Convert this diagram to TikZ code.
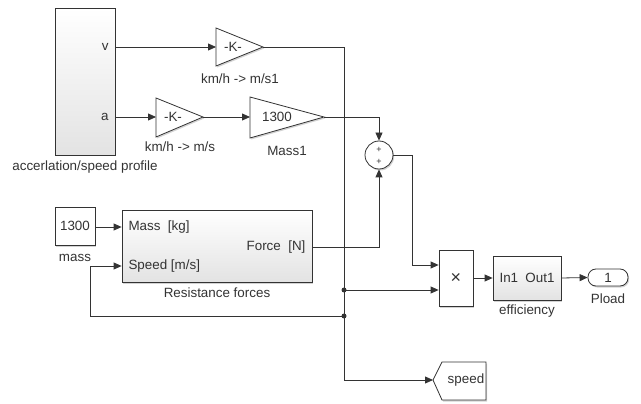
\documentclass[tikz,border=0pt]{standalone}
\usepackage{fontspec}
\setmainfont{Liberation Sans}
\usetikzlibrary{arrows.meta,shapes.geometric,shadows,calc}
\definecolor{ln}{HTML}{333333}
\tikzset{
  every node/.style={font=\fontsize{13.4}{15}\selectfont, text=ln},
  shd/.style={drop shadow={shadow xshift=1.2pt,shadow yshift=-1.5pt,opacity=.35,fill=gray}},
  blk/.style={draw=ln, line width=0.8pt, fill=white, inner sep=0pt, shd},
  subsys/.style={blk, top color=white, bottom color=gray!22},
  tri/.style={draw=ln, line width=0.8pt, fill=white, shd},
  sig/.style={draw=ln, line width=0.8pt, -{Triangle[length=8pt,width=7pt]}},
  wire/.style={draw=ln, line width=0.8pt},
  dot/.style={circle, fill=ln, inner sep=0pt, minimum size=5pt},
}
\begin{document}
\begin{tikzpicture}[x=1pt,y=-1pt]
\useasboundingbox (0,0) rectangle (641,404);
% profile block
\node[subsys, minimum width=60pt, minimum height=147pt] (prof) at (85,81.5) {};
\node[anchor=east] (lv) at (112,47) {v};
\node[anchor=east] (la) at (112,117) {a};
\node (lprof) at (85,167) {accerlation/speed profile};
\coordinate (pv) at (115,47);
\coordinate (pa) at (115,117);
% gains
\filldraw[tri] (216,28) -- (263,47) -- (216,66) -- cycle;
\coordinate (g1in) at (216,47);
\coordinate (g1out) at (263,47);
\node (k1) at (233,47) {-K-};
\node (lg1) at (240,79) {km/h -> m/s1};
\filldraw[tri] (156,98) -- (203,117) -- (156,137) -- cycle;
\coordinate (g2in) at (156,117);
\coordinate (g2out) at (203,117);
\node (k2) at (173,117) {-K-};
\node (lg2) at (180,147) {km/h -> m/s};
\filldraw[tri] (250,97) -- (324,117) -- (250,138) -- cycle;
\coordinate (m1in) at (250,117);
\coordinate (m1out) at (324,117);
\node (km1) at (277,117) {1300};
\node (lm1) at (287,151) {Mass1};
% sum
\node[blk, circle, minimum size=28pt] (sum) at (379,155) {};
\node[font=\fontsize{9}{9}\selectfont] (sp1) at (379,150) {+};
\node[font=\fontsize{9}{9}\selectfont] (sp2) at (379,162) {+};
% mass constant
\node[blk, minimum width=40pt, minimum height=38pt] (mass) at (75,226) {1300};
\node (lmass) at (75,258) {mass};
% resistance forces
\node[subsys, minimum width=190pt, minimum height=72pt] (res) at (217,246) {};
\node[anchor=west] (rm) at (125,227) {Mass\ \ [kg]};
\node[anchor=west] (rs) at (125,266) {Speed [m/s]};
\node[anchor=east] (rf) at (309,247) {Force\ \ [N]};
\node (lres) at (217,293) {Resistance forces};
% product
\node[blk, minimum width=34pt, minimum height=56pt, font=\fontsize{18}{18}\selectfont] (prod) at (456,278) {×};
% efficiency
\node[subsys, minimum width=68pt, minimum height=44pt] (eff) at (527,278) {};
\node[anchor=west] (ein) at (496,278) {In1};
\node[anchor=east] (eout) at (558,278) {Out1};
\node (leff) at (527,311) {efficiency};
% outport
\node[blk, rounded corners=8pt, minimum width=40pt, minimum height=17pt] (pload) at (608,277.5) {1};
\node (lpload) at (608,299) {Pload};
% goto tag
\filldraw[draw=ln, fill=white, line width=0.8pt, shd] (433,380) -- (442,362) -- (486,362) -- (486,400) -- (442,400) -- cycle;
\node (speed) at (466,380) {speed};
\coordinate (tag) at (433,380);
% junctions and helpers
\node[dot] (j1) at (344,290) {};
\node[dot] (j2) at (344,316) {};
\coordinate (c1) at (412,265);
\coordinate (c2) at (90,316);
\coordinate (c3) at (344,380);
% connectors
\draw[sig] (pv) -- (g1in);
\draw[sig] (pa) -- (g2in);
\draw[sig] (g2out) -- (m1in);
\draw[wire] (g1out) -| (j1.center);
\draw[wire] (j1.center) -- (j2.center);
\draw[sig] (j2.center) -- (c3) -- (tag);
\draw[sig] (m1out) -| (sum.north);
\draw[sig] (res.east |- rf) -| (sum.south);
\draw[sig] (sum.east) -| (c1) -- (c1 -| prod.west);
\draw[sig] (j1.center) -- (j1 -| prod.west);
\draw[sig] (prod.east) -- (eff.west);
\draw[sig] (eff.east) -- (pload.west);
\draw[sig] (mass.east |- rm) -- (res.west |- rm);
\draw[sig] (j2.center) -- (c2) |- (res.west |- rs);
\end{tikzpicture}
\end{document}
